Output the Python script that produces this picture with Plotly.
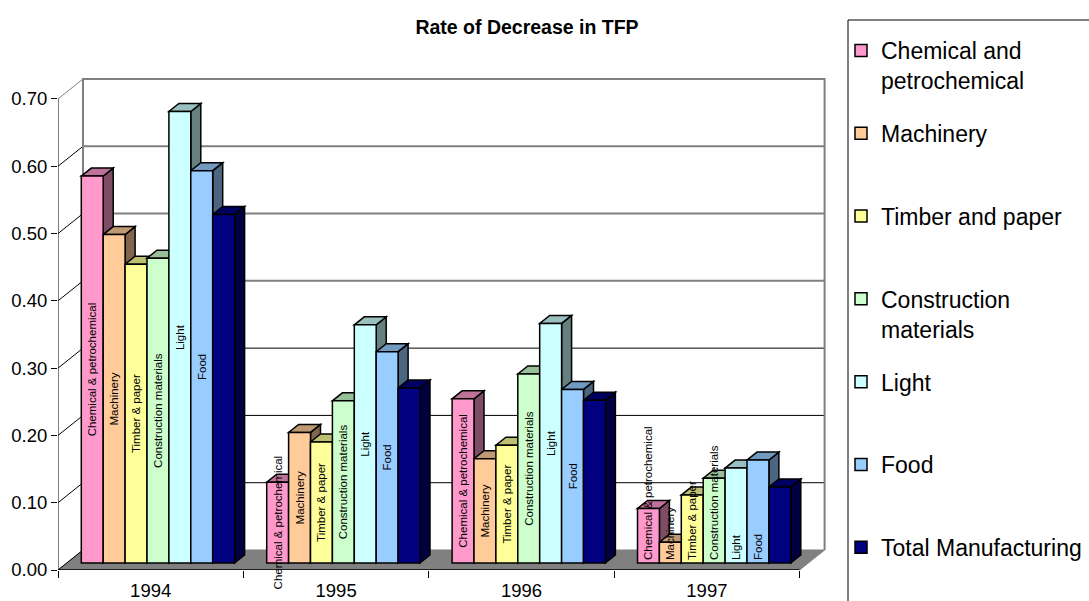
import plotly.graph_objects as go

# ---- data -------------------------------------------------------------
years = ["1994", "1995", "1996", "1997"]
legend_names = [
    "Chemical and<br>petrochemical",
    "Machinery<br>\u00a0",
    "Timber and paper<br>\u00a0",
    "Construction<br>materials",
    "Light<br>\u00a0",
    "Food<br>\u00a0",
    "Total Manufacturing<br>\u00a0",
]
bar_labels = ["Chemical & petrochemical", "Machinery", "Timber & paper",
              "Construction materials", "Light", "Food", ""]

chemical = [0.575, 0.120, 0.244, 0.081]
machinery = [0.488, 0.194, 0.155, 0.031]
timber = [0.444, 0.180, 0.175, 0.101]
construction = [0.453, 0.241, 0.281, 0.126]
light = [0.671, 0.354, 0.356, 0.141]
food = [0.583, 0.314, 0.258, 0.153]
total = [0.518, 0.260, 0.242, 0.113]
series = [chemical, machinery, timber, construction, light, food, total]

colors = ["#FF99CC", "#FFCC99", "#FFFF99", "#CCFFCC", "#CCFFFF", "#99CCFF", "#000080"]
y_ticks = [0.0, 0.1, 0.2, 0.3, 0.4, 0.5, 0.6, 0.7]
y_tick_text = ["0.00", "0.10", "0.20", "0.30", "0.40", "0.50", "0.60", "0.70"]

# ---- geometry (pixels -> axis units) ----------------------------------
FONT = "Arial, Liberation Sans, sans-serif"
FIG_W, FIG_H = 1089, 601
PL, PR, PT, PB = 58, 826, 77, 570          # plot-area edges in pixels
CAT_PX = 185.4                             # pixels per category
UNIT_PX = 672.9                            # pixels per 1.0 on the value axis

x_max = (PR - PL) / CAT_PX
y_max = (PB - PT) / UNIT_PX

WALL_DX, WALL_DY = 25 / CAT_PX, 20 / UNIT_PX   # depth of floor / back wall
BAR_SHIFT = 7 / UNIT_PX                        # bars stand part-way into the floor
BAR_DX, BAR_DY = 10 / CAT_PX, 8 / UNIT_PX      # depth of each column
BAR_W = 21.9 / CAT_PX
GROUP_PAD = 23.3 / CAT_PX
n_cat = len(years)


def shade(hex_color, f):
    h = hex_color.lstrip("#")
    r, g, b = (int(h[i:i + 2], 16) for i in (0, 2, 4))
    return "rgb({},{},{})".format(int(r * f), int(g * f), int(b * f))


def paper_x(px):
    return (px - PL) / (PR - PL)


def paper_y(px):
    return (PB - px) / (PB - PT)


def bar_x(i, j):
    return i + GROUP_PAD + (j + 0.5) * BAR_W


shapes = []

# floor
shapes.append(dict(
    type="path", xref="x", yref="y", layer="below",
    path="M0,0 L{a},0 L{b},{d} L{c},{d} Z".format(a=n_cat, b=n_cat + WALL_DX, c=WALL_DX, d=WALL_DY),
    fillcolor="#808080", line=dict(color="#808080", width=1)))

# back-wall gridlines and left-wall diagonals
for v in y_ticks:
    if 0 < v < 0.65:
        lower = v < 0.35
        shapes.append(dict(type="line", xref="x", yref="y", layer="below",
                           x0=WALL_DX, x1=n_cat + WALL_DX, y0=v + WALL_DY, y1=v + WALL_DY,
                           line=dict(color="#000000" if lower else "#808080",
                                     width=1 if lower else 2)))
    shapes.append(dict(type="line", xref="x", yref="y", layer="below",
                       x0=0, x1=WALL_DX, y0=v, y1=v + WALL_DY,
                       line=dict(color="#000000" if v < 0.65 else "#808080", width=1)))

top_v = y_ticks[-1]
wall_frame = "M{x0},{y0} L{x0},{y1} L{x1},{y1} L{x1},{y0}".format(
    x0=WALL_DX, x1=n_cat + WALL_DX, y0=WALL_DY, y1=top_v + WALL_DY)
shapes.append(dict(type="path", xref="x", yref="y", layer="below", path=wall_frame,
                   line=dict(color="#808080", width=2)))

# front value axis and category axis lines
shapes.append(dict(type="line", xref="x", yref="y", layer="below",
                   x0=0, x1=0, y0=0, y1=top_v, line=dict(color="#000000", width=1)))
shapes.append(dict(type="line", xref="x", yref="y", layer="below",
                   x0=0, x1=n_cat, y0=0, y1=0, line=dict(color="#000000", width=1.5)))

# side and top faces of every column
for j, vals in enumerate(series):
    for i, h in enumerate(vals):
        xl = bar_x(i, j) - BAR_W / 2
        xr = xl + BAR_W
        side = "M{xr},0 L{xs},{dy} L{xs},{ht} L{xr},{h} Z".format(
            xr=xr, xs=xr + BAR_DX, dy=BAR_DY, ht=h + BAR_DY, h=h)
        top = "M{xl},{h} L{xr},{h} L{xs},{ht} L{xls},{ht} Z".format(
            xl=xl, xr=xr, xs=xr + BAR_DX, xls=xl + BAR_DX, h=h, ht=h + BAR_DY)
        shapes.append(dict(type="path", xref="x", yref="y2", layer="below", path=side,
                           fillcolor=shade(colors[j], 0.5), line=dict(color="#000000", width=1.5)))
        shapes.append(dict(type="path", xref="x", yref="y2", layer="below", path=top,
                           fillcolor=shade(colors[j], 0.75), line=dict(color="#000000", width=1.5)))

# legend frame
shapes.append(dict(type="rect", xref="paper", yref="paper", layer="below",
                   x0=paper_x(848), x1=paper_x(1110), y0=paper_y(620), y1=paper_y(20),
                   line=dict(color="#000000", width=1), fillcolor="rgba(0,0,0,0)"))

fig = go.Figure()
# 1994-1996 columns carry centred labels; the short 1997 columns label from the base up
last = n_cat - 1
for j, vals in enumerate(series):
    common = dict(
        width=BAR_W,
        yaxis="y2",
        legendgroup=str(j),
        marker=dict(color=colors[j], line=dict(color="#000000", width=1.5)),
        textposition="inside",
        textangle=-90,
        constraintext="none",
        cliponaxis=False,
        textfont=dict(family=FONT, size=11.5, color="#000000"),
        hoverinfo="skip",
    )
    fig.add_trace(go.Bar(
        x=[bar_x(i, j) for i in range(last)],
        y=vals[:last],
        name=legend_names[j],
        text=[bar_labels[j]] * last,
        insidetextanchor="middle",
        **common))
    fig.add_trace(go.Bar(
        x=[bar_x(last, j)],
        y=vals[last:],
        name=legend_names[j],
        showlegend=False,
        text=[bar_labels[j]],
        insidetextanchor="start",
        **common))

fig.update_layout(
    width=FIG_W, height=FIG_H,
    margin=dict(l=PL, r=FIG_W - PR, t=PT, b=FIG_H - PB, autoexpand=False),
    paper_bgcolor="#FFFFFF", plot_bgcolor="rgba(0,0,0,0)",
    barmode="overlay",
    font=dict(family=FONT, color="#000000"),
    title=dict(text="<b>Rate of Decrease in TFP</b>", font=dict(size=19.5, family=FONT),
               xref="paper", x=paper_x(527), xanchor="center",
               yref="container", y=1 - 27 / FIG_H, yanchor="middle"),
    xaxis=dict(range=[0, x_max], tickmode="array",
               tickvals=[i + 0.5 for i in range(n_cat)], ticktext=years,
               ticks="", showgrid=False, zeroline=False, showline=False,
               tickfont=dict(size=18.5), ticklabelstandoff=7,
               minor=dict(tickmode="array", tickvals=list(range(n_cat + 1)),
                          ticks="outside", ticklen=7, tickcolor="#000000", showgrid=False)),
    yaxis=dict(range=[0, y_max], tickmode="array", tickvals=y_ticks, ticktext=y_tick_text,
               ticks="outside", ticklen=6, tickcolor="#000000",
               showgrid=False, zeroline=False, showline=False, tickfont=dict(size=18.5)),
    yaxis2=dict(range=[-BAR_SHIFT, y_max - BAR_SHIFT], overlaying="y", visible=False),
    legend=dict(x=paper_x(841), y=paper_y(29), xanchor="left", yanchor="top",
                font=dict(size=23, family=FONT), valign="top", tracegroupgap=20,
                bgcolor="rgba(0,0,0,0)", borderwidth=0, maxheight=1500),
    shapes=shapes,
)

fig.write_html("out.html")
